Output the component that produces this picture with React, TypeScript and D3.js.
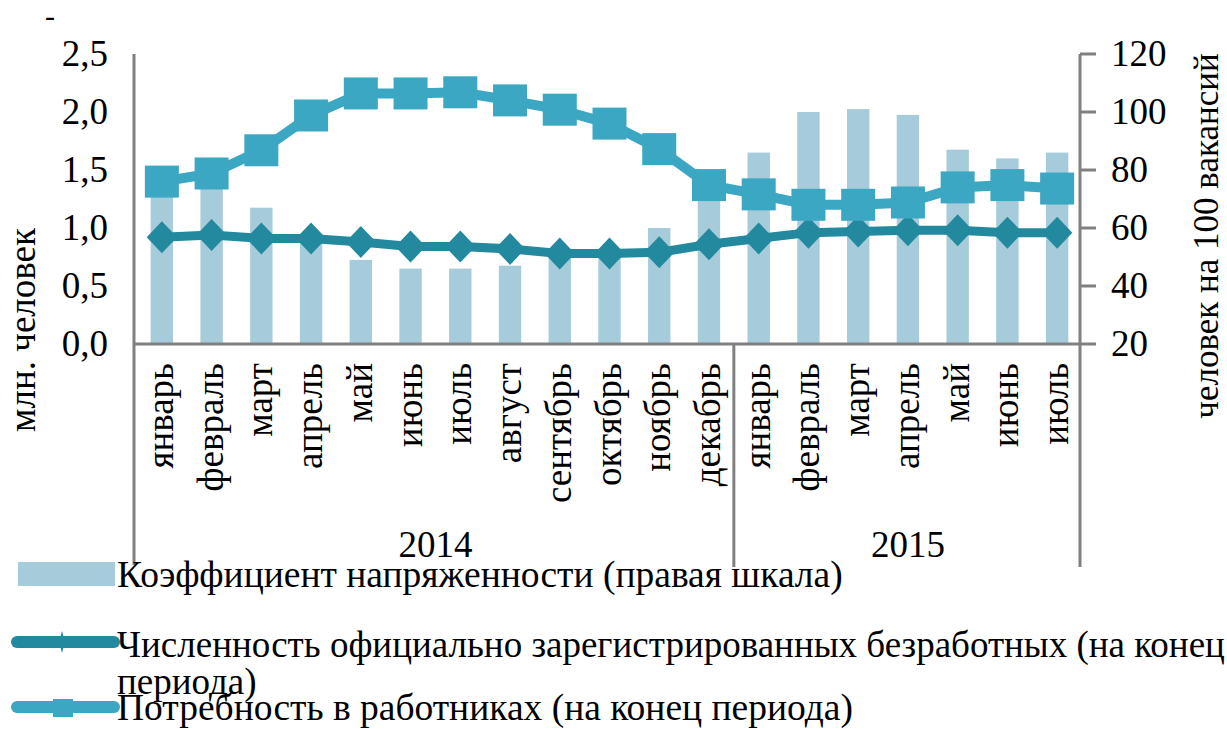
import * as d3 from "d3";

const months = ["январь", "февраль", "март", "апрель", "май", "июнь", "июль", "август", "сентябрь", "октябрь", "ноябрь", "декабрь",
  "январь", "февраль", "март", "апрель", "май", "июнь", "июль"];
const years = [{ label: "2014", from: 0, to: 12 }, { label: "2015", from: 12, to: 19 }];

// коэффициент напряженности, человек на 100 вакансий (правая шкала)
const tension = [72, 74, 67, 58, 49, 46, 46, 47, 50, 50, 60, 73, 86, 100, 101, 99, 87, 84, 86];
// безработные, млн человек
const unemployed = [0.92, 0.94, 0.91, 0.91, 0.88, 0.84, 0.84, 0.82, 0.78, 0.78, 0.79, 0.86, 0.91, 0.96, 0.97, 0.98, 0.98, 0.96, 0.96];
// потребность в работниках, млн человек
const demand = [1.40, 1.47, 1.67, 1.97, 2.16, 2.16, 2.17, 2.10, 2.02, 1.90, 1.68, 1.37, 1.29, 1.20, 1.20, 1.22, 1.35, 1.37, 1.34];

const leftTicks = [0, 0.5, 1, 1.5, 2, 2.5];
const rightTicks = [20, 40, 60, 80, 100, 120];

const legendItems = [
  "Коэффициент напряженности (правая шкала)",
  "Численность официально зарегистрированных безработных (на конец",
  "периода)",
  "Потребность в работниках (на конец периода)",
];

const barColor = "#a6cbda";
const unempColor = "#23899e";
const demandColor = "#3ca7c3";
const axisColor = "#808080";
const ts = { fontFamily: '"Liberation Serif"' };

export default function App() {
  const W = 1227, H = 729;
  const x = d3.scaleBand<number>().domain(d3.range(months.length)).range([137, 1082]).padding(0);
  const yL = d3.scaleLinear().domain([0, 2.5]).range([344, 54]);
  const yR = d3.scaleLinear().domain([20, 120]).range([344, 54]);
  const cx = (i: number) => (x(i) as number) + x.bandwidth() / 2;
  const bw = x.bandwidth() * 0.45;

  const lineL = d3.line<number>().x((_, i) => cx(i)).y(d => yL(d));
  const diamond = (s: number) => `M0,${-s}L${s * 0.95},0L0,${s}L${-s * 0.95},0Z`;
  const fmt = (v: number) => d3.format(".1f")(v).replace(".", ",");

  return (
    <svg width={W} height={H} style={{ position: "absolute", left: 0, top: 0, background: "#fff" }}>
      <text x={45} y={26} fontSize={30} style={ts}>-</text>

      {/* bars */}
      {tension.map((v, i) => (
        <rect key={"b" + i} x={cx(i) - bw / 2} y={yR(v)} width={bw} height={yR(20) - yR(v)} fill={barColor} />
      ))}

      {/* axes */}
      <line x1={134} x2={134} y1={54} y2={565} stroke={axisColor} strokeWidth={3} />
      <line x1={1080} x2={1080} y1={54} y2={567} stroke={axisColor} strokeWidth={3} />
      <line x1={134} x2={1080} y1={344} y2={344} stroke={axisColor} strokeWidth={3} />
      <line x1={x(12) as number} x2={x(12) as number} y1={344} y2={567} stroke={axisColor} strokeWidth={3} />
      {rightTicks.map(t => (
        <line key={"rt" + t} x1={1080} x2={1096} y1={yR(t)} y2={yR(t)} stroke={axisColor} strokeWidth={3} />
      ))}

      {/* lines */}
      <path d={lineL(unemployed) || ""} fill="none" stroke={unempColor} strokeWidth={9} />
      {unemployed.map((v, i) => (
        <path key={"d" + i} d={diamond(16)} transform={`translate(${cx(i)},${yL(v)})`} fill={unempColor} />
      ))}
      <path d={lineL(demand) || ""} fill="none" stroke={demandColor} strokeWidth={10} />
      {demand.map((v, i) => (
        <rect key={"s" + i} x={cx(i) - 17} y={yL(v) - 16} width={34} height={32} fill={demandColor} />
      ))}

      {/* tick labels */}
      {leftTicks.map(t => (
        <text key={"lt" + t} x={108} y={yL(t)} dy="0.33em" fontSize={37} textAnchor="end" style={ts}>{fmt(t)}</text>
      ))}
      {rightTicks.map(t => (
        <text key={"rl" + t} x={1111} y={yR(t)} dy="0.33em" fontSize={37} style={ts}>{t}</text>
      ))}
      {months.map((m, i) => (
        <text key={"m" + i} transform={`translate(${cx(i) + 11},363) rotate(-90)`} fontSize={37} textAnchor="end" style={ts}>{m}</text>
      ))}
      {years.map(y => (
        <text key={y.label} x={((x(y.from) as number) + (y.to < months.length ? (x(y.to) as number) : 1082)) / 2}
          y={557} fontSize={37} textAnchor="middle" style={ts}>{y.label}</text>
      ))}

      {/* axis titles */}
      <text transform="translate(35,330) rotate(-90)" fontSize={37} textAnchor="middle" style={ts}>млн. человек</text>
      <text transform="translate(1218,236) rotate(-90)" fontSize={35} textAnchor="middle" style={ts}>человек на 100 вакансий</text>

      {/* legend */}
      <rect x={18} y={562} width={97} height={24} fill={barColor} />
      <text x={117} y={587} fontSize={37.5} style={ts}>{legendItems[0]}</text>

      <line x1={17} x2={114} y1={642} y2={642} stroke={unempColor} strokeWidth={12} strokeLinecap="round" />
      <path d="M0,-11L3,0L0,11L-3,0Z" transform="translate(62,642)" fill={unempColor} />
      <text x={117} y={657} fontSize={37} style={ts}>{legendItems[1]}</text>
      <text x={117} y={694} fontSize={37} style={ts}>{legendItems[2]}</text>

      <line x1={17} x2={114} y1={707} y2={707} stroke={demandColor} strokeWidth={12} strokeLinecap="round" />
      <rect x={53} y={699} width={20} height={18} fill={demandColor} />
      <text x={117} y={720} fontSize={37.5} style={ts}>{legendItems[3]}</text>
    </svg>
  );
}
